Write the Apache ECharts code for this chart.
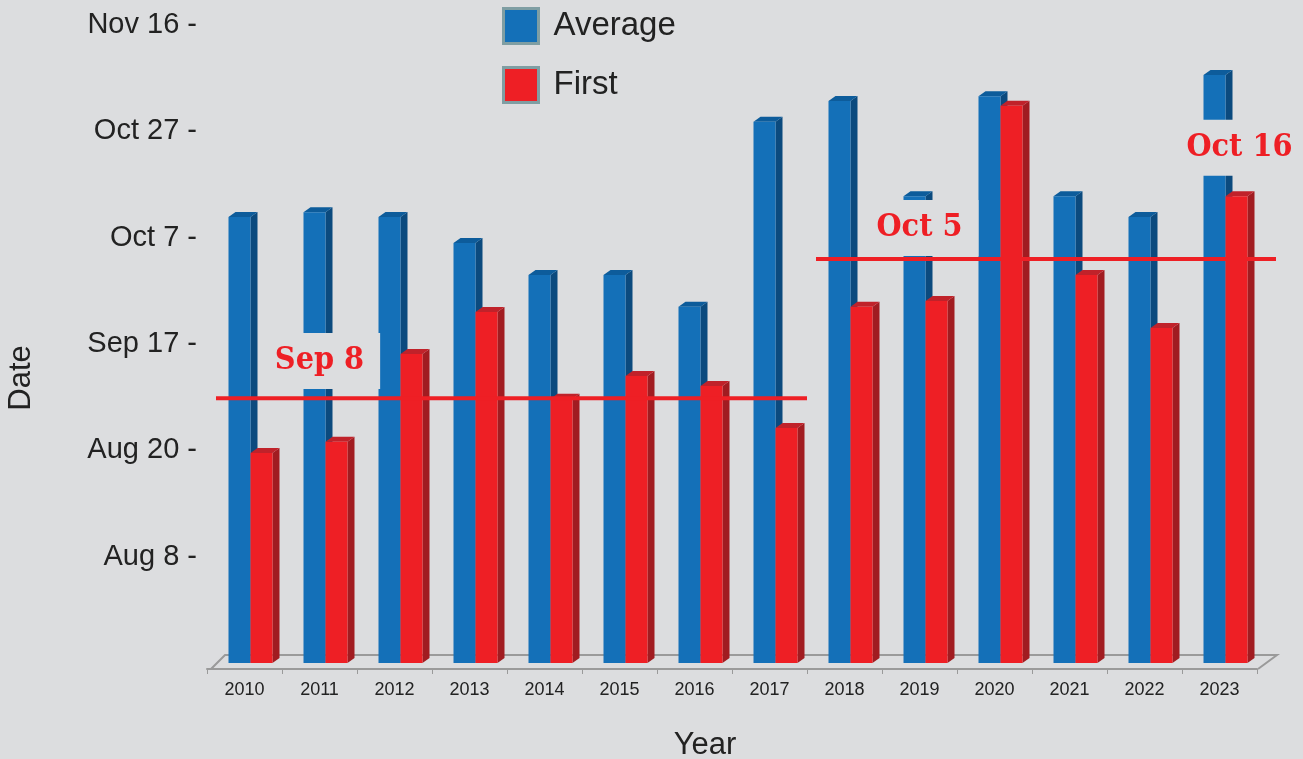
<!DOCTYPE html>
<html>
<head>
<meta charset="utf-8">
<script src="https://cdn.jsdelivr.net/npm/echarts@6/dist/echarts.min.js"></script>
<style>
  html, body { margin: 0; padding: 0; background: #dcdddf; }
  #chart { width: 1303px; height: 759px; }
</style>
</head>
<body>
<div id="chart"></div>
<script>
// day-of-year values (Nov 16 = 320)
var years = ['2010', '2011', '2012', '2013', '2014', '2015', '2016',
             '2017', '2018', '2019', '2020', '2021', '2022', '2023'];
var averageDay = [283.9, 284.8, 283.9, 279.0, 273.0, 273.0, 267.0,
                  301.8, 305.7, 287.8, 306.6, 287.8, 283.9, 310.6];
var firstDay = [239.5, 241.6, 258.1, 266.0, 249.7, 254.0, 252.1,
                244.2, 267.0, 268.1, 304.8, 273.0, 263.0, 287.8];

// y ticks (labels as printed on the original)
var tickDays = [220, 240, 260, 280, 300, 320];
var tickLabels = ['Aug 8', 'Aug 20', 'Sep 17', 'Oct 7', 'Oct 27', 'Nov 16'];

// mean lines: first year index, last year index, day
var lineStart = [0, 8];
var lineEnd = [7, 13];
var lineDay = [249.8, 276.0];

// annotations
var noteText = ['Sep 8', 'Oct 5', 'Oct 16'];
var noteYear = ['2011', '2019', '2023'];
var noteDay = [256.8, 281.8, 296.9];

var Y_MIN = 200, Y_MAX = 320;
var BAR_W = 22, DX = 7, DY = 5;
var BG = '#dcdddf';
var RED = '#ee1f25';

function bar3d(offset, front, side, top) {
  return function (params, api) {
    var i = api.value(0);
    var p = api.coord([i, api.value(1)]);
    var b = api.coord([i, Y_MIN]);
    var x0 = p[0] + offset, x1 = x0 + BAR_W;
    return {
      type: 'group',
      children: [
        { type: 'polygon', shape: { points: [[x1, p[1]], [x1 + DX, p[1] - DY], [x1 + DX, b[1] - DY], [x1, b[1]]] }, style: { fill: side } },
        { type: 'polygon', shape: { points: [[x0, p[1]], [x0 + DX, p[1] - DY], [x1 + DX, p[1] - DY], [x1, p[1]]] }, style: { fill: top } },
        { type: 'rect', shape: { x: x0, y: p[1], width: BAR_W, height: b[1] - p[1] }, style: { fill: front } }
      ]
    };
  };
}

var chart = echarts.init(document.getElementById('chart'));

var labelMap = {};
tickDays.forEach(function (d, k) { labelMap[d] = tickLabels[k]; });

chart.setOption({
  backgroundColor: BG,
  animation: false,
  textStyle: { fontFamily: 'Liberation Sans, Arial, sans-serif', color: '#222' },
  grid: { left: 207, right: 46, top: 25, bottom: 96 },
  legend: {
    orient: 'vertical',
    left: 497,
    top: 2,
    itemWidth: 35,
    itemHeight: 35,
    itemGap: 21,
    icon: 'rect',
    itemStyle: { borderColor: '#7f9ea3', borderWidth: 3 },
    textStyle: { fontSize: 33, color: '#222', padding: [0, 0, 0, 10] },
    data: ['Average', 'First']
  },
  xAxis: {
    type: 'category',
    data: years,
    offset: 6,
    axisLine: { show: true, lineStyle: { color: '#9a9a9a', width: 2 } },
    axisTick: { show: true, length: 5, lineStyle: { color: '#9a9a9a' } },
    axisLabel: { fontSize: 18, color: '#222', margin: 12 },
    splitLine: { show: false }
  },
  yAxis: {
    type: 'value',
    min: Y_MIN,
    max: Y_MAX,
    interval: 20,
    axisLine: { show: false },
    axisTick: { show: false },
    splitLine: { show: false },
    axisLabel: {
      fontSize: 29,
      color: '#222',
      margin: 10,
      formatter: function (v) { return labelMap[v] ? labelMap[v] + ' -' : ''; }
    }
  },
  graphic: [
    {
      type: 'polyline',
      z: 0,
      shape: { points: [[211, 669], [225, 655], [1277, 655], [1258, 669]] },
      style: { stroke: '#9a9a9a', lineWidth: 2, fill: null }
    },
    {
      type: 'text',
      x: 21, y: 378,
      rotation: Math.PI / 2,
      style: { text: 'Date', fontSize: 31, fill: '#222', align: 'center', verticalAlign: 'middle', fontFamily: 'Liberation Sans, Arial, sans-serif' }
    },
    {
      type: 'text',
      x: 705, y: 745,
      style: { text: 'Year', fontSize: 31, fill: '#222', align: 'center', verticalAlign: 'middle', fontFamily: 'Liberation Sans, Arial, sans-serif' }
    }
  ],
  series: [
    {
      name: 'Average',
      type: 'custom',
      itemStyle: { color: '#1470b8' },
      encode: { x: 0, y: 1 },
      data: averageDay.map(function (v, i) { return [i, v]; }),
      renderItem: bar3d(-16, '#1470b8', '#0b4a7e', '#0d5c9b')
    },
    {
      name: 'First',
      type: 'custom',
      itemStyle: { color: RED },
      encode: { x: 0, y: 1 },
      data: firstDay.map(function (v, i) { return [i, v]; }),
      renderItem: bar3d(6, RED, '#a11c21', '#c0222a')
    },
    {
      name: 'means',
      type: 'custom',
      z: 5,
      encode: { x: [0, 1], y: 2 },
      data: lineDay.map(function (v, k) { return [lineStart[k], lineEnd[k], v]; }),
      renderItem: function (params, api) {
        var band = api.size([1, 0])[0];
        var a = api.coord([api.value(0), api.value(2)]);
        var e = api.coord([api.value(1), api.value(2)]);
        var last = api.value(1) === years.length - 1;
        return {
          type: 'line',
          shape: { x1: a[0] - band / 2 + 9, y1: a[1], x2: e[0] + band / 2 + (last ? 19 : 0), y2: a[1] },
          style: { stroke: RED, lineWidth: 4 }
        };
      }
    },
    {
      name: 'notes',
      type: 'scatter',
      z: 6,
      symbolSize: 1,
      itemStyle: { color: BG, opacity: 1 },
      emphasis: { disabled: true },
      data: noteText.map(function (t, k) {
        return {
          value: [noteYear[k], noteDay[k]],
          label: {
            show: true,
            position: 'inside',
            offset: [k === 2 ? 20 : 0, 0],
            formatter: t,
            fontFamily: 'DejaVu Serif Condensed, DejaVu Serif, serif',
            fontWeight: 'bold',
            fontSize: 32,
            color: RED,
            opacity: 1,
            backgroundColor: BG,
            padding: k === 2 ? [12, 20, 12, 20] : [12, 16, 12, 16]
          }
        };
      })
    }
  ]
});
</script>
</body>
</html>
